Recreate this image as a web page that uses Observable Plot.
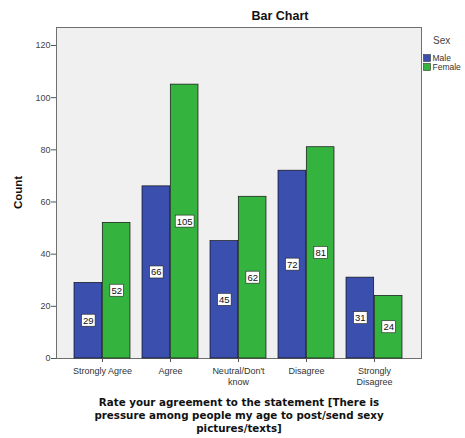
<!DOCTYPE html>
<html><head><meta charset="utf-8">
<script src="https://cdn.jsdelivr.net/npm/d3@7"></script>
<script src="https://cdn.jsdelivr.net/npm/@observablehq/plot@0.6"></script>
<style>
html,body{margin:0;padding:0;background:#fff;}
</style>
</head><body>
<div id="chart"></div>
<script>
const categories = ["Strongly Agree","Agree","Neutral/Don't know","Disagree","Strongly Disagree"];
const tickLabels = ["Strongly Agree","Agree","Neutral/Don't\nknow","Disagree","Strongly\nDisagree"];
const sexes = ["Male","Female"];
const maleCounts = [29,66,45,72,31];
const femaleCounts = [52,105,62,81,24];
const yTicks = [0,20,40,60,80,100,120];
const sexColors = ["#3b4fae","#34b43f"];
const titleText = "Bar Chart";
const yTitle = "Count";
const xTitleLines = ["Rate your agreement to the statement [There is","pressure among people my age to post/send sexy","pictures/texts]"];
const legendTitle = "Sex";

const rows = [];
categories.forEach((c,i)=>{
  rows.push({category:c, sex:"Male", value:maleCounts[i]});
  rows.push({category:c, sex:"Female", value:femaleCounts[i]});
});
const maleRows = rows.filter(d=>d.sex==="Male");
const femaleRows = rows.filter(d=>d.sex==="Female");

const W = 465, H = 438, mL = 56, mR = 44, mT = 27, mB = 80;
const pIn = 0.17, pOut = 0.26;
const step = (W - mL - mR) / (categories.length - pIn + 2*pOut);
const half = step * (1 - pIn) / 2;
const font = "'Liberation Sans', Arial, sans-serif";

const plot = Plot.plot({
  width: W, height: H,
  marginLeft: mL, marginRight: mR, marginTop: mT, marginBottom: mB,
  style: {fontFamily: font, fontSize: "9px", color: "#222", background: "#fff"},
  x: {domain: categories, paddingInner: pIn, paddingOuter: pOut, label: null},
  y: {domain: [0, 126.9], label: null},
  color: {domain: sexes, range: sexColors},
  marks: [
    Plot.frame({fill: "#f0f0f0", stroke: "#6f6f6f", strokeWidth: 1}),
    Plot.barY(maleRows, {x: "category", y: "value", fill: "sex", stroke: "#111", strokeWidth: 0.7, insetLeft: 0, insetRight: half}),
    Plot.barY(femaleRows, {x: "category", y: "value", fill: "sex", stroke: "#111", strokeWidth: 0.7, insetLeft: half, insetRight: 0}),
    Plot.text(maleRows, {x: "category", y: d => d.value/2, text: d => String(d.value), dx: -half/2, fill: "#111", fontSize: 9.5, className: "vlab"}),
    Plot.text(femaleRows, {x: "category", y: d => d.value/2, text: d => String(d.value), dx: half/2, fill: "#111", fontSize: 9.5, className: "vlab"}),
    Plot.axisY({ticks: yTicks, tickSize: 5, tickPadding: 1, tickFormat: d => String(d), stroke: "#555", fill: "#444", label: null, fontSize: 9}),
    Plot.axisX({tickSize: 4, tickPadding: 4, tickFormat: (d,i) => tickLabels[categories.indexOf(d)], stroke: "#555", fill: "#333", label: null, fontSize: 9, lineHeight: 1.2})
  ]
});
document.getElementById("chart").appendChild(plot);

const svg = d3.select(plot);
// value label boxes
svg.selectAll("g.vlab text").each(function(){
  const bb = this.getBBox();
  d3.select(this.parentNode).insert("rect", () => this)
    .attr("transform", this.getAttribute("transform"))
    .attr("x", bb.x - 1.5).attr("y", bb.y - 0.5)
    .attr("width", bb.width + 3).attr("height", bb.height + 1)
    .attr("fill", "#fff").attr("stroke", "#222").attr("stroke-width", 0.6);
});
const g = svg.append("g").attr("text-anchor", "start");
// title
g.append("text").attr("x", 280).attr("y", 20).attr("text-anchor","middle")
  .attr("font-family", font).attr("font-weight","bold").attr("font-size", 12.5).attr("fill","#111").text(titleText);
// y title
g.append("text").attr("transform", `translate(22,${(mT + H - mB)/2}) rotate(-90)`).attr("text-anchor","middle")
  .attr("font-family", font).attr("font-weight","bold").attr("font-size", 11.5).attr("fill","#111").text(yTitle);
// x title
xTitleLines.forEach((t,i)=>{
  g.append("text").attr("x", 239).attr("y", 406 + i*13).attr("text-anchor","middle")
    .attr("font-family", "'DejaVu Sans', Verdana, sans-serif").attr("font-weight","bold").attr("font-size", 10.3).attr("fill","#111").text(t);
});
// legend
g.append("text").attr("x", 433).attr("y", 44).attr("font-family", font).attr("font-size", 10).attr("fill","#444").text(legendTitle);
sexes.forEach((s,i)=>{
  g.append("rect").attr("x", 423.5).attr("y", 54.5 + i*9).attr("width", 7).attr("height", 7)
    .attr("fill", sexColors[i]).attr("stroke", "#333").attr("stroke-width", 0.6);
  g.append("text").attr("x", 432.5).attr("y", 61 + i*9).attr("font-family", font).attr("font-size", 8.5).attr("fill","#333").text(s);
});
</script>
</body></html>
